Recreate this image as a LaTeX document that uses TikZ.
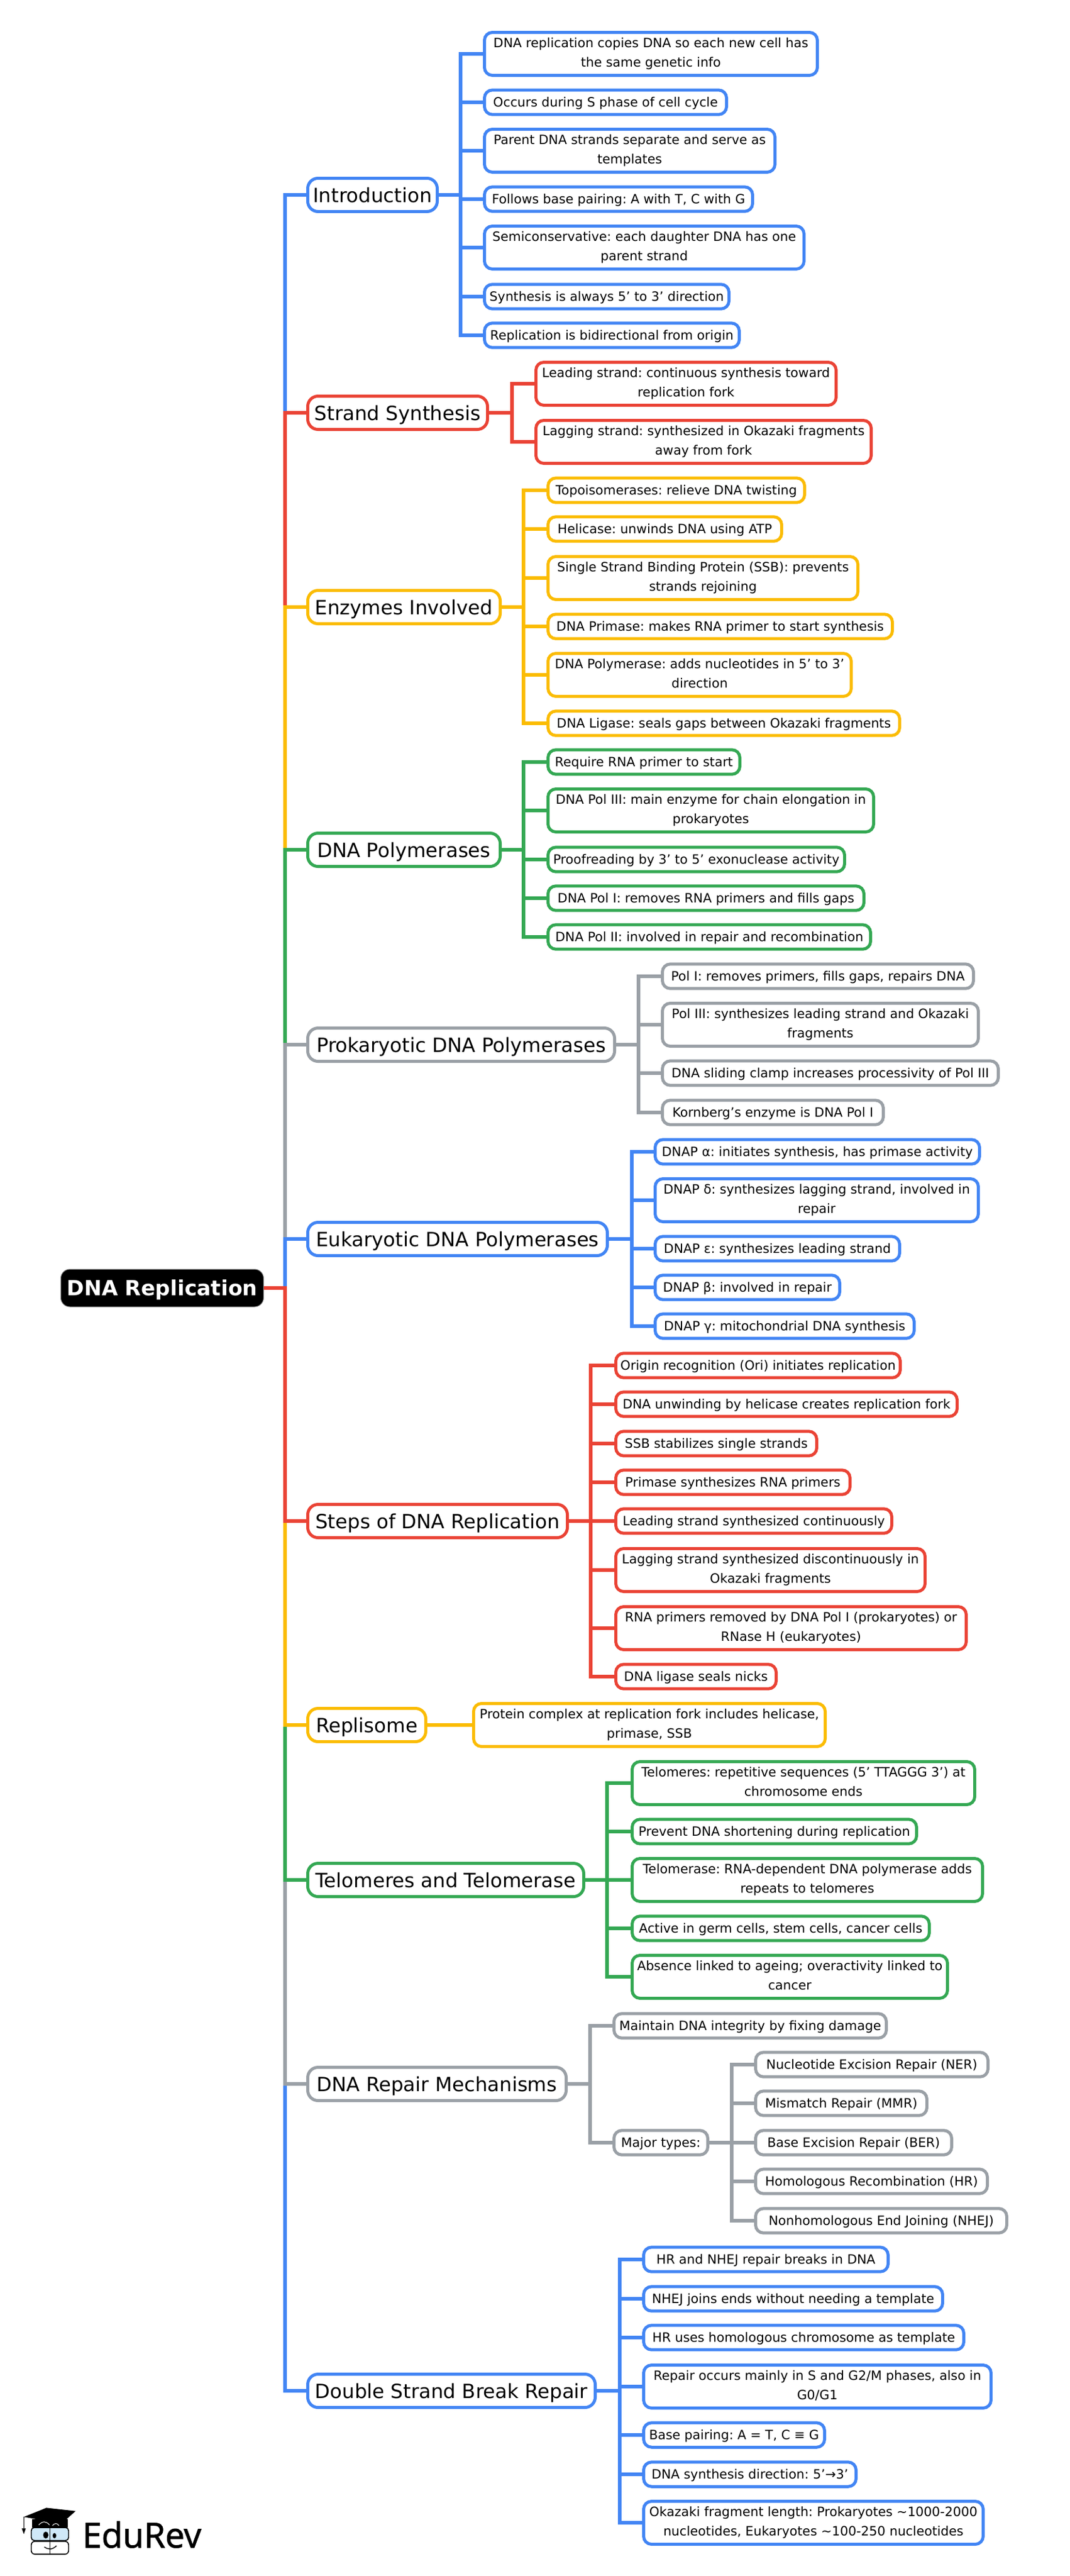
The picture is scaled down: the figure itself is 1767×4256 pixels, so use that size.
\documentclass[tikz,border=0pt]{standalone}
\usepackage{fontspec}
\setmainfont{DejaVu Sans}
\newfontfamily\logofont[FakeBold=1.6]{Open Sans}
\usepackage{tikz}

\definecolor{cblue}{HTML}{4285F4}
\definecolor{cred}{HTML}{EA4335}
\definecolor{cyellow}{HTML}{FBBC04}
\definecolor{cgreen}{HTML}{34A853}
\definecolor{cgray}{HTML}{9AA0A6}
\definecolor{clens}{HTML}{CFE8F8}

\newcommand{\leafstrut}{\rule[-5.5pt]{0pt}{26.7pt}}
\newcommand{\tallstrut}{\rule[-5.5pt]{0pt}{30.7pt}}

\tikzset{
  leaf/.style={draw=#1, fill=white, line width=5pt, rounded corners=13pt, anchor=west, align=center,
    inner sep=0pt, minimum height=40.4pt, font=\fontsize{21.2}{32}\selectfont\frenchspacing,
    execute at begin node=\leafstrut, execute at end node=\leafstrut},
  tall/.style={minimum height=71pt, execute at begin node=\tallstrut},
  topic/.style={draw=#1, fill=white, line width=5pt, rounded corners=17pt, anchor=west, align=center,
    inner sep=0pt, minimum height=55pt, font=\fontsize{32.4}{36}\selectfont,
    text height=24pt, text depth=0pt},
  rootnode/.style={draw=gray, fill=black, text=white, line width=1pt, rounded corners=15pt, anchor=west,
    inner sep=0pt, minimum height=62pt, minimum width=335pt, font=\fontsize{34.5}{36}\selectfont\bfseries,
    text height=25.2pt, text depth=0pt},
  link/.style={draw=#1, line width=5.6pt},
  trunk/.style={draw=#1, line width=6.6pt}
}

\begin{document}
\begin{tikzpicture}[x=1pt, y=-1pt]
  \useasboundingbox (0,0) rectangle (1767,4256);

  \node[rootnode] (root) at (100,2128) {DNA Replication};

  \node[topic=cblue, minimum width=214] (intro) at (506,322) {Introduction};
  \node[topic=cred, minimum width=297] (strand) at (506,682) {Strand Synthesis};
  \node[topic=cyellow, minimum width=318] (enz) at (506,1003) {Enzymes Involved};
  \node[topic=cgreen, minimum width=318] (poly) at (506,1404) {DNA Polymerases};
  \node[topic=cgray, minimum width=507] (prok) at (506,1726) {Prokaryotic DNA Polymerases};
  \node[topic=cblue, minimum width=495] (euk) at (506,2047) {Eukaryotic DNA Polymerases};
  \node[topic=cred, minimum width=429] (steps) at (506,2513) {Steps of DNA Replication};
  \node[topic=cyellow, minimum width=195] (repli) at (506,2850) {Replisome};
  \node[topic=cgreen, minimum width=456] (telo) at (506,3106) {Telomeres and Telomerase};
  \node[topic=cgray, minimum width=427] (repair) at (506,3443) {DNA Repair Mechanisms};
  \node[topic=cblue, minimum width=475] (dsb) at (506,3950) {Double Strand Break Repair};

  \node[leaf=cblue, tall, minimum width=550] (i1) at (798,89) {DNA replication copies DNA so each new cell has\\the same genetic info};
  \node[leaf=cblue, minimum width=400] (i2) at (798,169) {Occurs during S phase of cell cycle};
  \node[leaf=cblue, tall, minimum width=480] (i3) at (798,249) {Parent DNA strands separate and serve as\\templates};
  \node[leaf=cblue, minimum width=443] (i4) at (798,329) {Follows base pairing: A with T, C with G};
  \node[leaf=cblue, tall, minimum width=528] (i5) at (798,409) {Semiconservative: each daughter DNA has one\\parent strand};
  \node[leaf=cblue, minimum width=404] (i6) at (798,490) {Synthesis is always 5’ to 3’ direction};
  \node[leaf=cblue, minimum width=421] (i7) at (798,554) {Replication is bidirectional from origin};

  \node[leaf=cred, tall, minimum width=496] (s1) at (883,634) {Leading strand: continuous synthesis toward\\replication fork};
  \node[leaf=cred, tall, minimum width=554] (s2) at (883,730) {Lagging strand: synthesized in Okazaki fragments\\away from fork};

  \node[leaf=cyellow, minimum width=424] (e1) at (903,810) {Topoisomerases: relieve DNA twisting};
  \node[leaf=cyellow, minimum width=386] (e2) at (903,874) {Helicase: unwinds DNA using ATP};
  \node[leaf=cyellow, tall, minimum width=512] (e3) at (903,955) {Single Strand Binding Protein (SSB): prevents\\strands rejoining};
  \node[leaf=cyellow, minimum width=569] (e4) at (903,1035) {DNA Primase: makes RNA primer to start synthesis};
  \node[leaf=cyellow, tall, minimum width=501] (e5) at (903,1115) {DNA Polymerase: adds nucleotides in 5’ to 3’\\direction};
  \node[leaf=cyellow, minimum width=581] (e6) at (903,1195) {DNA Ligase: seals gaps between Okazaki fragments};

  \node[leaf=cgreen, minimum width=317] (p1) at (903,1259) {Require RNA primer to start};
  \node[leaf=cgreen, tall, minimum width=538] (p2) at (903,1339) {DNA Pol III: main enzyme for chain elongation in\\prokaryotes};
  \node[leaf=cgreen, minimum width=490] (p3) at (903,1420) {Proofreading by 3’ to 5’ exonuclease activity};
  \node[leaf=cgreen, minimum width=522] (p4) at (903,1484) {DNA Pol I: removes RNA primers and fills gaps};
  \node[leaf=cgreen, minimum width=533] (p5) at (903,1548) {DNA Pol II: involved in repair and recombination};

  \node[leaf=cgray, minimum width=514] (k1) at (1092,1613) {Pol I: removes primers, fills gaps, repairs DNA};
  \node[leaf=cgray, tall, minimum width=522] (k2) at (1092,1693) {Pol III: synthesizes leading strand and Okazaki\\fragments};
  \node[leaf=cgray, minimum width=555] (k3) at (1092,1773) {DNA sliding clamp increases processivity of Pol III};
  \node[leaf=cgray, minimum width=365] (k4) at (1092,1838) {Kornberg’s enzyme is DNA Pol I};

  \node[leaf=cblue, minimum width=536] (u1) at (1080,1903) {DNAP α: initiates synthesis, has primase activity};
  \node[leaf=cblue, tall, minimum width=534] (u2) at (1080,1983) {DNAP δ: synthesizes lagging strand, involved in\\repair};
  \node[leaf=cblue, minimum width=404] (u3) at (1080,2063) {DNAP ε: synthesizes leading strand};
  \node[leaf=cblue, minimum width=305] (u4) at (1080,2127) {DNAP β: involved in repair};
  \node[leaf=cblue, minimum width=428] (u5) at (1080,2191) {DNAP γ: mitochondrial DNA synthesis};

  \node[leaf=cred, minimum width=470] (t1) at (1015,2256) {Origin recognition (Ori) initiates replication};
  \node[leaf=cred, minimum width=564] (t2) at (1015,2320) {DNA unwinding by helicase creates replication fork};
  \node[leaf=cred, minimum width=332] (t3) at (1015,2385) {SSB stabilizes single strands};
  \node[leaf=cred, minimum width=387] (t4) at (1015,2449) {Primase synthesizes RNA primers};
  \node[leaf=cred, minimum width=456] (t5) at (1015,2513) {Leading strand synthesized continuously};
  \node[leaf=cred, tall, minimum width=511] (t6) at (1015,2594) {Lagging strand synthesized discontinuously in\\Okazaki fragments};
  \node[leaf=cred, tall, minimum width=579] (t7) at (1015,2690) {RNA primers removed by DNA Pol I (prokaryotes) or\\RNase H (eukaryotes)};
  \node[leaf=cred, minimum width=265] (t8) at (1015,2770) {DNA ligase seals nicks};

  \node[leaf=cyellow, tall, minimum width=581] (y1) at (780,2850) {Protein complex at replication fork includes helicase,\\primase, SSB};

  \node[leaf=cgreen, tall, minimum width=566] (m1) at (1042,2946) {Telomeres: repetitive sequences (5’ TTAGGG 3’) at\\chromosome ends};
  \node[leaf=cgreen, minimum width=470] (m2) at (1042,3026) {Prevent DNA shortening during replication};
  \node[leaf=cgreen, tall, minimum width=579] (m3) at (1042,3106) {Telomerase: RNA-dependent DNA polymerase adds\\repeats to telomeres};
  \node[leaf=cgreen, minimum width=491] (m4) at (1042,3186) {Active in germ cells, stem cells, cancer cells};
  \node[leaf=cgreen, tall, minimum width=521] (m5) at (1042,3266) {Absence linked to ageing; overactivity linked to\\cancer};

  \node[leaf=cgray, minimum width=450] (r1) at (1012,3347) {Maintain DNA integrity by fixing damage};
  \node[leaf=cgray, minimum width=155] (r2) at (1012,3540) {Major types:};
  \node[leaf=cgray, minimum width=384] (n1) at (1246,3411) {Nucleotide Excision Repair (NER)};
  \node[leaf=cgray, minimum width=283] (n2) at (1246,3475) {Mismatch Repair (MMR)};
  \node[leaf=cgray, minimum width=324] (n3) at (1246,3540) {Base Excision Repair (BER)};
  \node[leaf=cgray, minimum width=383] (n4) at (1246,3604) {Homologous Recombination (HR)};
  \node[leaf=cgray, minimum width=415] (n5) at (1246,3669) {Nonhomologous End Joining (NHEJ)};

  \node[leaf=cblue, minimum width=404] (d1) at (1061,3733) {HR and NHEJ repair breaks in DNA};
  \node[leaf=cblue, minimum width=494] (d2) at (1061,3798) {NHEJ joins ends without needing a template};
  \node[leaf=cblue, minimum width=529] (d3) at (1061,3862) {HR uses homologous chromosome as template};
  \node[leaf=cblue, tall, minimum width=574] (d4) at (1061,3943) {Repair occurs mainly in S and G2/M phases, also in\\G0/G1};
  \node[leaf=cblue, minimum width=299] (d5) at (1061,4023) {Base pairing: A = T, C ≡ G};
  \node[leaf=cblue, minimum width=351] (d6) at (1061,4088) {DNA synthesis direction: 5’→3’};
  \node[leaf=cblue, tall, minimum width=561] (d7) at (1061,4168) {Okazaki fragment length: Prokaryotes \textasciitilde1000-2000\\nucleotides, Eukaryotes \textasciitilde100-250 nucleotides};

  \coordinate (tbus) at (471,0);
  \coordinate (ibus) at (761,0);
  \coordinate (sbus) at (846,0);
  \coordinate (ebus) at (865,0);
  \coordinate (kbus) at (1055,0);
  \coordinate (ubus) at (1044,0);
  \coordinate (tsbus) at (976,0);
  \coordinate (mbus) at (1003,0);
  \coordinate (rbus) at (975,0);
  \coordinate (nbus) at (1209,0);
  \coordinate (dbus) at (1024,0);

  \draw[trunk=cblue] (root.east) -- (tbus |- root) |- (intro.west);
  \draw[trunk=cred] (root.east) -- (tbus |- root) |- (strand.west);
  \draw[trunk=cyellow] (root.east) -- (tbus |- root) |- (enz.west);
  \draw[trunk=cgreen] (root.east) -- (tbus |- root) |- (poly.west);
  \draw[trunk=cgray] (root.east) -- (tbus |- root) |- (prok.west);
  \draw[trunk=cblue] (root.east) -- (tbus |- root) |- (euk.west);
  \draw[trunk=cblue] (root.east) -- (tbus |- root) |- (dsb.west);
  \draw[trunk=cgray] (root.east) -- (tbus |- root) |- (repair.west);
  \draw[trunk=cgreen] (root.east) -- (tbus |- root) |- (telo.west);
  \draw[trunk=cyellow] (root.east) -- (tbus |- root) |- (repli.west);
  \draw[trunk=cred] (root.east) -- (tbus |- root) |- (steps.west);

  \draw[link=cblue] (intro.east) -- (ibus |- intro);
  \draw[link=cblue] (ibus |- intro) |- (i1.west);
  \draw[link=cblue] (ibus |- intro) |- (i2.west);
  \draw[link=cblue] (ibus |- intro) |- (i3.west);
  \draw[link=cblue] (ibus |- intro) |- (i4.west);
  \draw[link=cblue] (ibus |- intro) |- (i5.west);
  \draw[link=cblue] (ibus |- intro) |- (i6.west);
  \draw[link=cblue] (ibus |- intro) |- (i7.west);

  \draw[link=cred] (strand.east) -- (sbus |- strand);
  \draw[link=cred] (sbus |- strand) |- (s1.west);
  \draw[link=cred] (sbus |- strand) |- (s2.west);

  \draw[link=cyellow] (enz.east) -- (ebus |- enz);
  \draw[link=cyellow] (ebus |- enz) |- (e1.west);
  \draw[link=cyellow] (ebus |- enz) |- (e2.west);
  \draw[link=cyellow] (ebus |- enz) |- (e3.west);
  \draw[link=cyellow] (ebus |- enz) |- (e4.west);
  \draw[link=cyellow] (ebus |- enz) |- (e5.west);
  \draw[link=cyellow] (ebus |- enz) |- (e6.west);

  \draw[link=cgreen] (poly.east) -- (ebus |- poly);
  \draw[link=cgreen] (ebus |- poly) |- (p1.west);
  \draw[link=cgreen] (ebus |- poly) |- (p2.west);
  \draw[link=cgreen] (ebus |- poly) |- (p3.west);
  \draw[link=cgreen] (ebus |- poly) |- (p4.west);
  \draw[link=cgreen] (ebus |- poly) |- (p5.west);

  \draw[link=cgray] (prok.east) -- (kbus |- prok);
  \draw[link=cgray] (kbus |- prok) |- (k1.west);
  \draw[link=cgray] (kbus |- prok) |- (k2.west);
  \draw[link=cgray] (kbus |- prok) |- (k3.west);
  \draw[link=cgray] (kbus |- prok) |- (k4.west);

  \draw[link=cblue] (euk.east) -- (ubus |- euk);
  \draw[link=cblue] (ubus |- euk) |- (u1.west);
  \draw[link=cblue] (ubus |- euk) |- (u2.west);
  \draw[link=cblue] (ubus |- euk) |- (u3.west);
  \draw[link=cblue] (ubus |- euk) |- (u4.west);
  \draw[link=cblue] (ubus |- euk) |- (u5.west);

  \draw[link=cred] (steps.east) -- (tsbus |- steps);
  \draw[link=cred] (tsbus |- steps) |- (t1.west);
  \draw[link=cred] (tsbus |- steps) |- (t2.west);
  \draw[link=cred] (tsbus |- steps) |- (t3.west);
  \draw[link=cred] (tsbus |- steps) |- (t4.west);
  \draw[link=cred] (tsbus |- steps) |- (t5.west);
  \draw[link=cred] (tsbus |- steps) |- (t6.west);
  \draw[link=cred] (tsbus |- steps) |- (t7.west);
  \draw[link=cred] (tsbus |- steps) |- (t8.west);

  \draw[link=cyellow] (repli.east) -- (y1.west);

  \draw[link=cgreen] (telo.east) -- (mbus |- telo);
  \draw[link=cgreen] (mbus |- telo) |- (m1.west);
  \draw[link=cgreen] (mbus |- telo) |- (m2.west);
  \draw[link=cgreen] (mbus |- telo) |- (m3.west);
  \draw[link=cgreen] (mbus |- telo) |- (m4.west);
  \draw[link=cgreen] (mbus |- telo) |- (m5.west);

  \draw[link=cgray] (repair.east) -- (rbus |- repair);
  \draw[link=cgray] (rbus |- repair) |- (r1.west);
  \draw[link=cgray] (rbus |- repair) |- (r2.west);
  \draw[link=cgray] (r2.east) -- (nbus |- r2);
  \draw[link=cgray] (nbus |- r2) |- (n1.west);
  \draw[link=cgray] (nbus |- r2) |- (n2.west);
  \draw[link=cgray] (nbus |- r2) |- (n3.west);
  \draw[link=cgray] (nbus |- r2) |- (n4.west);
  \draw[link=cgray] (nbus |- r2) |- (n5.west);

  \draw[link=cblue] (dsb.east) -- (dbus |- dsb);
  \draw[link=cblue] (dbus |- dsb) |- (d1.west);
  \draw[link=cblue] (dbus |- dsb) |- (d2.west);
  \draw[link=cblue] (dbus |- dsb) |- (d3.west);
  \draw[link=cblue] (dbus |- dsb) |- (d4.west);
  \draw[link=cblue] (dbus |- dsb) |- (d5.west);
  \draw[link=cblue] (dbus |- dsb) |- (d6.west);
  \draw[link=cblue] (dbus |- dsb) |- (d7.west);

  \begin{scope}[shift={(0,4050)}, x=0.3333pt, y=-0.3333pt]
    \fill (160,335) rectangle (335,378);
    \fill (118,325) -- (230,280) -- (375,296) -- (305,358) -- cycle;
    \draw[line width=1pt] (118,325) -- (118,385);
    \fill (108,382) -- (128,382) -- (118,410) -- cycle;
    \draw[white, line width=1pt] (192,365) .. controls (210,345) and (230,345) .. (245,365);
    \draw[white, line width=1pt] (260,368) .. controls (270,355) and (285,355) .. (292,368);
    \draw[line width=1.6pt, fill=clens, rounded corners=5pt] (155,378) rectangle (340,442);
    \draw[line width=1.6pt, fill=white, rounded corners=6pt] (155,446) rectangle (340,510);
    \draw[line width=1.6pt] (248,378) -- (248,512);
    \fill (227,415) ellipse [x radius=13, y radius=17];
    \fill (270,418) ellipse [x radius=9, y radius=13];
    \draw[line width=1.4pt] (220,474) .. controls (240,488) and (260,488) .. (280,468);
  \end{scope}
  \node[anchor=base west, inner sep=0pt, font=\logofont\fontsize{57}{60}\selectfont] (edurev) at (136,4209) {EduRev};
\end{tikzpicture}
\end{document}
